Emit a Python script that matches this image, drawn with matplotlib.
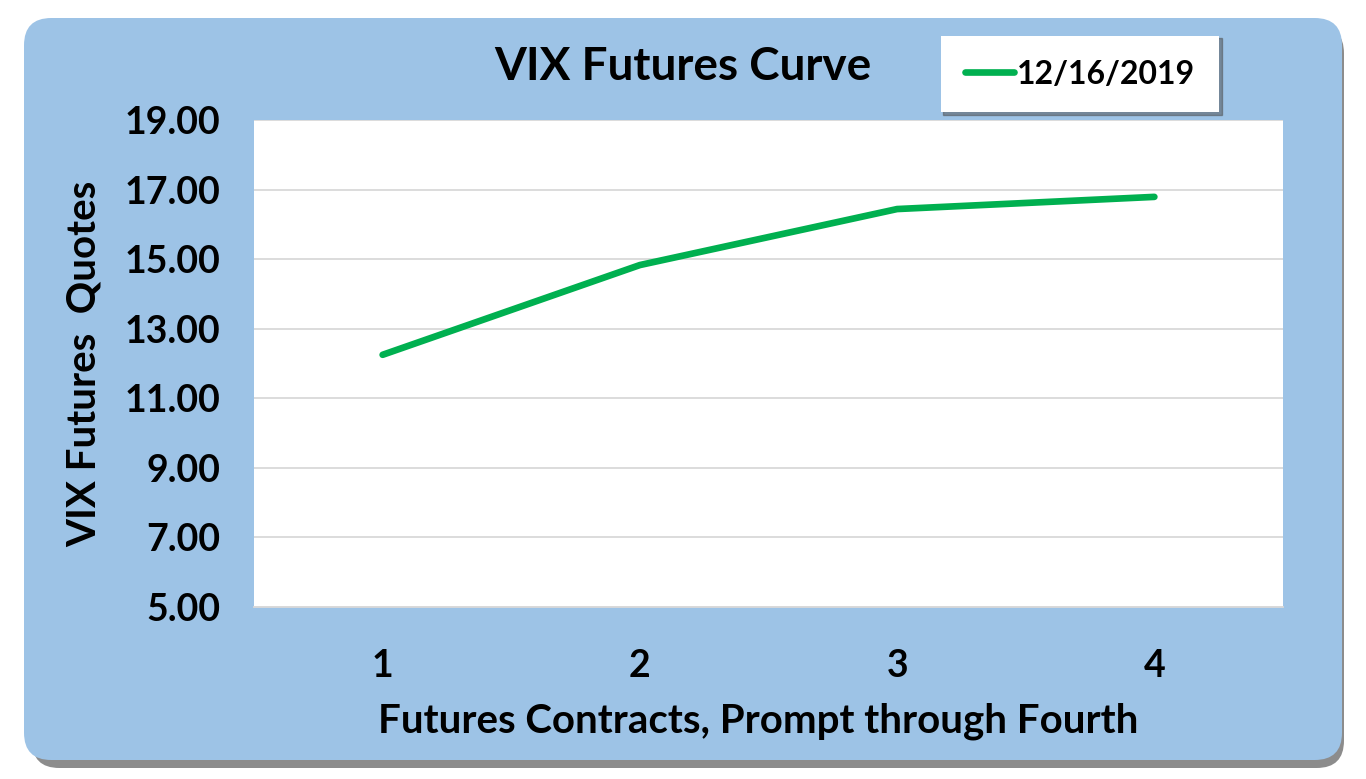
import matplotlib.pyplot as plt
from matplotlib.patches import FancyBboxPatch

plt.rcParams['font.family'] = ['Lato', 'DejaVu Sans']
plt.rcParams['font.weight'] = 'bold'
plt.rcParams['axes.labelweight'] = 'bold'

contracts = [1, 2, 3, 4]
quotes = [12.25, 14.83, 16.44, 16.79]
series_name = "12/16/2019"
yticks = [5, 7, 9, 11, 13, 15, 17, 19]

W, H = 1366, 779
fig = plt.figure(figsize=(W / 100, H / 100), dpi=100)
fig.patch.set_facecolor('white')

# rounded blue panel with shadow
shadow = FancyBboxPatch((32 / W, 1 - 768 / H), 1312 / W, 742 / H,
                        boxstyle="round,pad=0,rounding_size=0.02",
                        transform=fig.transFigure, facecolor='#8c8c8c',
                        edgecolor='none', zorder=0, mutation_aspect=W / H)
fig.patches.append(shadow)
panel = FancyBboxPatch((24 / W, 1 - 760 / H), 1318 / W, 742 / H,
                       boxstyle="round,pad=0,rounding_size=0.02",
                       transform=fig.transFigure, facecolor='#9DC3E6',
                       edgecolor='none', zorder=1, mutation_aspect=W / H)
fig.patches.append(panel)

ax = fig.add_axes([254 / W, 1 - 607 / H, (1283 - 254) / W, (607 - 120) / H])
ax.set_zorder(2)
ax.set_facecolor('white')
line, = ax.plot(contracts, quotes, color='#00B050', lw=4.8,
                solid_capstyle='round', label=series_name)

ax.set_xlim(0.5, 4.5)
ax.set_ylim(5, 19)
ax.set_yticks(yticks)
ax.set_yticklabels([f"{v:.2f}" for v in yticks], fontsize=27, fontweight='bold')
ax.set_xticks(contracts)
ax.set_xticklabels([str(c) for c in contracts], fontsize=27, fontweight='bold')
ax.tick_params(length=0)
ax.tick_params(axis='y', pad=24)
ax.tick_params(axis='x', pad=30)
ax.grid(axis='y', color='#D9D9D9', lw=1.3)
ax.set_axisbelow(True)
for s in ['top', 'left', 'right']:
    ax.spines[s].set_visible(False)
ax.spines['bottom'].set_color('#D9D9D9')
ax.spines['bottom'].set_linewidth(1.3)

ax.set_xlabel("Futures Contracts, Prompt through Fourth", fontsize=29)
ax.xaxis.set_label_coords(0.49, -0.197)
ax.set_ylabel("VIX Futures  Quotes", fontsize=29, labelpad=16)

fig.text(683 / W, 1 - 67 / H, "VIX Futures Curve", ha='center', va='center',
         fontsize=33, fontweight='bold')

leg = fig.legend(handles=[line], loc='center',
                 bbox_to_anchor=(1080 / W, 1 - 74 / H), fontsize=23,
                 frameon=True, fancybox=False, shadow=True, framealpha=1,
                 edgecolor='none', handlelength=1.55, handletextpad=0.1,
                 borderpad=0.75)
leg.set_zorder(5)

fig.savefig('out.png', dpi=100)
